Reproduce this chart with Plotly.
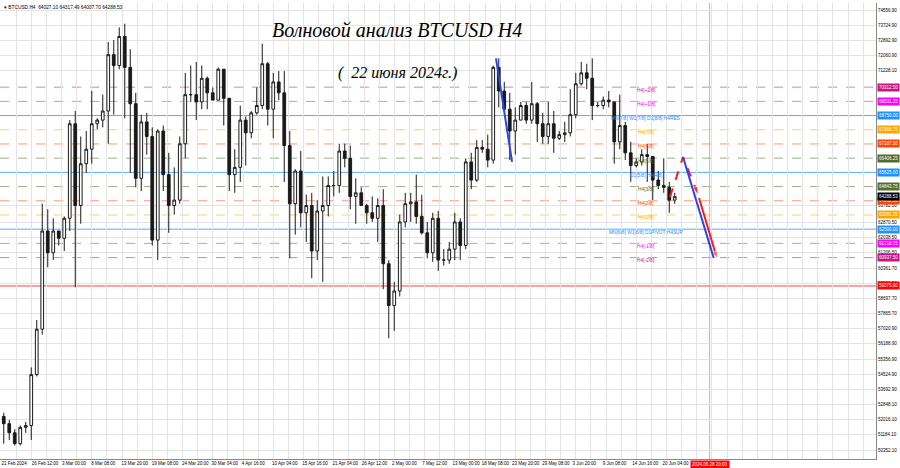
import pandas as pd
import plotly.graph_objects as go

# ---------------- data (daily OHLC) ----------------
first_day = "2024-02-21"

open_feb = [52200, 51800, 51300, 50700, 51600, 51700, 54500, 57000, 62400]
high_feb = [52400, 52000, 51500, 51700, 51900, 54900, 57500, 63900, 63600]
low_feb = [50700, 50900, 50600, 50600, 51300, 50900, 54400, 56700, 60400]
close_feb = [51800, 51300, 50700, 51600, 51700, 54500, 57000, 62400, 61200]

open_mar = [61200, 62400, 62000, 63100, 68300, 63800, 66100, 66900, 68300, 68500, 69000, 72100, 71500, 73100, 71400, 69400,
            65300, 68400, 67600, 61900, 67900, 65500, 63800, 64100, 67200, 69900, 69900, 69500, 70800, 70000, 69600]
high_mar = [63100, 62400, 63200, 68500, 69000, 67600, 67900, 70100, 68600, 69900, 72800, 72900, 73600, 73800, 72400, 70000,
            68800, 68900, 68100, 68000, 68200, 66700, 65900, 67600, 71100, 71500, 71700, 71500, 70900, 70300, 71400]
low_mar = [60800, 61600, 61300, 62400, 59300, 62800, 65600, 66100, 68000, 68100, 67200, 68800, 71300, 68600, 65600, 64800,
           64600, 66600, 61600, 60800, 64600, 62300, 63300, 63900, 66400, 69500, 68500, 69100, 69100, 69600, 69600]
close_mar = [62400, 62000, 63100, 68300, 63800, 66100, 66900, 68300, 68500, 69000, 72100, 71500, 73100, 71400, 69400, 65300,
             68400, 67600, 61900, 67900, 65500, 63800, 64100, 67200, 69900, 69900, 69500, 70800, 70000, 69600, 71300]

open_apr = [71300, 69700, 65500, 65900, 68500, 67800, 68900, 69300, 71600, 69100, 70600, 70000, 67100, 63900, 65700,
            63400, 63800, 61300, 63500, 63800, 64900, 64900, 66800, 66400, 64300, 64500, 63800, 63400, 63100, 63800]
high_apr = [71300, 69700, 66900, 69300, 68700, 69000, 70300, 72700, 71700, 71100, 71200, 71200, 67900, 65800, 66800,
            64400, 64500, 64100, 65400, 65400, 65700, 67200, 67200, 67100, 65300, 64800, 63900, 64300, 64200, 64700]
low_apr = [68200, 64600, 64500, 65100, 66000, 67500, 68800, 69100, 68200, 67500, 69600, 65100, 60900, 62200, 62600,
           61800, 59800, 60800, 59600, 63200, 64300, 64500, 65900, 63600, 62800, 63800, 62800, 62900, 61800, 59200]
close_apr = [69700, 65500, 65900, 68500, 67800, 68900, 69300, 71600, 69100, 70600, 70000, 67100, 63900, 65700, 63400,
             63800, 61300, 63500, 63800, 64900, 64900, 66800, 66400, 64300, 64500, 63800, 63400, 63100, 63800, 60600]

open_may = [60600, 58300, 59100, 62900, 63900, 64000, 63200, 62300, 61200, 63100, 60800, 60800, 61400, 62900, 61600, 66200,
            65200, 67000, 66900, 66300, 71400, 70100, 69100, 67900, 68500, 69300, 68500, 69400, 68300, 67600, 68300]
high_may = [60800, 59600, 63300, 64500, 64500, 65500, 64400, 62900, 63400, 63500, 61400, 61800, 63400, 63100, 66400, 66700,
            67400, 67400, 67700, 71500, 71900, 70600, 70000, 69200, 69500, 69500, 70600, 69500, 68900, 69500, 69000]
low_may = [56500, 56900, 58800, 62600, 62900, 62800, 62200, 60900, 60700, 60200, 60500, 60600, 60800, 60800, 61400, 64700,
           65100, 66700, 65900, 66100, 69200, 69000, 66300, 66600, 68500, 68300, 68300, 67300, 67200, 67200, 66700]
close_may = [58300, 59100, 62900, 63900, 64000, 63200, 62300, 61200, 63100, 60800, 60800, 61400, 62900, 61600, 66200, 65200,
             67000, 66900, 66300, 71400, 70100, 69100, 67900, 68500, 69300, 68500, 69400, 68300, 67600, 68300, 67500]

open_jun = [67500, 67700, 67800, 68800, 70500, 71100, 70800, 69300, 69300, 69600, 69500, 67300, 68200, 66700, 66000,
            66200, 66600, 66500, 65200, 64900, 64800, 64100]
high_jun = [67900, 68400, 70200, 71100, 71700, 71600, 71900, 69500, 69800, 70100, 69500, 69900, 68400, 67300, 66400,
            66900, 67200, 66500, 65700, 66400, 65100, 64500]
low_jun = [67400, 67300, 67600, 68600, 70400, 70200, 68500, 69200, 69100, 69200, 66100, 66900, 66300, 65100, 65900,
           66000, 65100, 64100, 64700, 64500, 63400, 63900]
close_jun = [67700, 67800, 68800, 70500, 71100, 70800, 69300, 69300, 69600, 69500, 67300, 68200, 66700, 66000, 66200,
             66600, 66500, 65200, 64900, 64800, 64100, 64288.53]

# time-axis labels
x_tick_dates = ["2024-02-21 00:00", "2024-02-26 12:00", "2024-03-03 00:00", "2024-03-08 08:00", "2024-03-13 20:00",
                "2024-03-19 08:00", "2024-03-24 20:00", "2024-03-30 04:00", "2024-04-04 16:00", "2024-04-10 04:00",
                "2024-04-15 16:00", "2024-04-21 04:00", "2024-04-26 12:00", "2024-05-02 00:00", "2024-05-07 12:00",
                "2024-05-13 00:00", "2024-05-18 08:00", "2024-05-23 20:00", "2024-05-29 08:00", "2024-06-03 20:00",
                "2024-06-09 08:00", "2024-06-14 16:00", "2024-06-20 04:00"]
x_tick_text = ["21 Feb 2024", "26 Feb 12:00", "3 Mar 00:00", "8 Mar 08:00", "13 Mar 20:00", "19 Mar 08:00",
               "24 Mar 20:00", "30 Mar 04:00", "4 Apr 16:00", "10 Apr 04:00", "15 Apr 16:00", "21 Apr 04:00",
               "26 Apr 12:00", "2 May 00:00", "7 May 12:00", "13 May 00:00", "18 May 08:00", "23 May 20:00",
               "29 May 08:00", "3 Jun 20:00", "9 Jun 08:00", "14 Jun 16:00", "20 Jun 04:00"]

# price-axis labels
y_tick_vals = [74556.90, 73724.90, 72892.90, 72060.90, 71228.10, 63782.50, 62870.50, 62038.50, 61206.50,
               60361.70, 59526.90, 58697.70, 57865.70, 57020.90, 56188.90, 55356.90, 54524.90, 53692.90,
               52848.10, 52016.10, 51184.10, 50352.10]

# Murrey-math levels
level_values = [70312.50, 69531.25, 68750.00, 67968.75, 67187.50, 66406.25, 65625.00, 64843.75,
                64062.50, 63281.25, 62500.00, 61718.75, 60937.50, 59375.00]
level_names = ["H4[+2/8]", "H4[+1/8]", "MN[7/8] W1[7/8] D1[8/8] H4RES", "H4[7/8]", "H4[6/8]", "H4[5/8]",
               "D1[5/8] H4[4/8]", "H4[3/8]", "H4[2/8]", "H4[1/8]", "MN[6/8] W1[6/8] D1PIVOT H4SUP",
               "H4[-1/8]", "H4[-2/8]", ""]
level_colors = ["#C71585", "#FF00FF", "#1E90FF", "#FFA500", "#FF4500", "#556B2F", "#1E90FF", "#556B2F",
                "#FF4500", "#FFA500", "#1E90FF", "#FF00FF", "#C71585", "#FF0000"]
level_dash = ["dash", "dash", "solid", "dash", "dash", "dash", "solid", "dash", "dash", "dash", "solid",
              "dash", "dash", "solid"]
level_label_time = "2024-06-17 05:00"

current_price = 64288.53
header_text = "\u25BE BTCUSD,H4  64027.10 64317.49 64007.70 64288.53"
now_line_time = "2024-06-28 20:00"
now_line_text = "2024.06.28 20:00"

# wave projections
blue_wave1_t = ["2024-05-21 00:00", "2024-05-23 22:00"]
blue_wave1_p = [71900, 66200]
blue_wave2_t = ["2024-06-24 00:00", "2024-06-29 14:00"]
blue_wave2_p = [66470, 60915]
red_dash_t = ["2024-06-21 15:00", "2024-06-24 00:00", "2024-06-26 17:00"]
red_dash_p = [64270, 66470, 64435]
red_solid_t = ["2024-06-26 22:00", "2024-06-30 05:00"]
red_solid_p = [64215, 60860]

title_text = "Волновой анализ BTCUSD H4"
subtitle_text = "(\u00a0 22 июня 2024г.)"

# ---------------- build ----------------
opens = open_feb + open_mar + open_apr + open_may + open_jun
highs = high_feb + high_mar + high_apr + high_may + high_jun
lows = low_feb + low_mar + low_apr + low_may + low_jun
closes = close_feb + close_mar + close_apr + close_may + close_jun
days = pd.date_range(first_day, periods=len(closes), freq="D") + pd.Timedelta(hours=12)

W, H = 900, 468
ML, MR, MT, MB = 0, 24, 3, 9
px_per_day = 5.5
x_start = pd.Timestamp(first_day) - pd.Timedelta(days=1 / px_per_day)
x_end = x_start + pd.Timedelta(days=(W - ML - MR) / px_per_day)

FS = 4.5
small = dict(family="Liberation Sans", size=FS, color="#000000")

fig = go.Figure()
fig.add_trace(go.Candlestick(
    x=days, open=opens, high=highs, low=lows, close=closes,
    increasing=dict(line=dict(color="#1a1a1a", width=1), fillcolor="#ffffff"),
    decreasing=dict(line=dict(color="#1a1a1a", width=1), fillcolor="#1a1a1a"),
    whiskerwidth=0, hoverinfo="skip", showlegend=False,
))

# level lines
for v, c, d in zip(level_values, level_colors, level_dash):
    fig.add_shape(type="line", xref="paper", x0=0, x1=1, yref="y", y0=v, y1=v,
                  line=dict(color=c, width=1, dash=d), opacity=0.75 if d == "solid" else 0.55,
                  layer="between")

# now line
fig.add_shape(type="line", xref="x", x0=now_line_time, x1=now_line_time, yref="paper", y0=0, y1=1,
              line=dict(color="#F4A0A0", width=1), layer="between")

# wave lines
def wave(t, p, color, dash, arrow):
    sizes = [0] * (len(t) - 1) + [8 if arrow else 0]
    fig.add_trace(go.Scatter(
        x=pd.to_datetime(t), y=p, mode="lines+markers",
        line=dict(color=color, width=2, dash=dash),
        marker=dict(symbol="arrow", size=sizes, angleref="previous", color=color),
        hoverinfo="skip", showlegend=False))

wave(blue_wave1_t, blue_wave1_p, "#2B45E8", "solid", False)
wave(red_dash_t, red_dash_p, "#FF1A1A", "dash", True)
wave(red_solid_t, red_solid_p, "#FF1A1A", "solid", True)
wave(blue_wave2_t, blue_wave2_p, "#2B45E8", "solid", False)

annotations = []
# level text on chart
for v, c, n in zip(level_values, level_colors, level_names):
    if n:
        annotations.append(dict(x=level_label_time, y=v, xref="x", yref="y", text=n, showarrow=False,
                                xanchor="center", yanchor="middle", yshift=-3,
                                font=dict(family="Liberation Sans", size=4.8, color=c)))
# level boxes on the price axis
for v, c in zip(level_values, level_colors):
    annotations.append(dict(x=1, y=v, xref="paper", yref="y", text=f"{v:.2f}", showarrow=False,
                            xanchor="left", yanchor="middle", xshift=1, bgcolor=c, borderpad=1,
                            font=dict(family="Liberation Sans", size=FS, color="#ffffff")))
annotations.append(dict(x=1, y=current_price, xref="paper", yref="y", text=f"{current_price:.2f}",
                        showarrow=False, xanchor="left", yanchor="middle", xshift=1, bgcolor="#000000",
                        borderpad=1, font=dict(family="Liberation Sans", size=FS, color="#ffffff")))
# now-time box
annotations.append(dict(x=now_line_time, y=0, xref="x", yref="paper", text=now_line_text, showarrow=False,
                        xanchor="center", yanchor="top", yshift=-1, bgcolor="#FF0000", borderpad=1,
                        font=dict(family="Liberation Sans", size=FS, color="#ffffff")))
# header
annotations.append(dict(x=0, y=1, xref="paper", yref="paper", text=header_text, showarrow=False,
                        xanchor="left", yanchor="top", xshift=2, yshift=0,
                        font=dict(family="Liberation Sans", size=4.8, color="#000000")))
# titles
annotations.append(dict(x=397 / 876, y=1 - 27 / 456, xref="paper", yref="paper", text=title_text,
                        showarrow=False, xanchor="center", yanchor="middle",
                        font=dict(family="Liberation Serif", size=20, color="#000000", style="italic")))
annotations.append(dict(x=397 / 876, y=1 - 70 / 456, xref="paper", yref="paper", text=subtitle_text,
                        showarrow=False, xanchor="center", yanchor="middle",
                        font=dict(family="Liberation Serif", size=16, color="#000000", style="italic")))

fig.update_layout(
    width=W, height=H, margin=dict(l=ML, r=MR, t=MT, b=MB, autoexpand=False),
    paper_bgcolor="#ffffff", plot_bgcolor="#ffffff",
    annotations=annotations, showlegend=False,
    xaxis=dict(type="date", range=[x_start, x_end], rangeslider=dict(visible=False),
               tickvals=x_tick_dates, ticktext=x_tick_text, ticklabelposition="outside right",
               tickangle=0, tickfont=small, ticks="", automargin=False,
               showgrid=False, zeroline=False, showline=True, linecolor="#888888", linewidth=1,
               minor=dict(dtick=2.75 * 86400000, tick0=first_day, showgrid=True, gridcolor="#e4e4e4",
                          ticks="")),
    yaxis=dict(side="right", range=[49857, 74942], tickvals=y_tick_vals,
               ticktext=[f"{v:.2f}" for v in y_tick_vals], tickfont=small, ticks="",
               automargin=False, showgrid=True, gridcolor="#e4e4e4", zeroline=False,
               showline=True, linecolor="#888888", linewidth=1),
)

fig.write_html("out.html", config={"displayModeBar": False},
               post_script="document.body.style.margin='0';document.body.style.overflow='hidden';")
